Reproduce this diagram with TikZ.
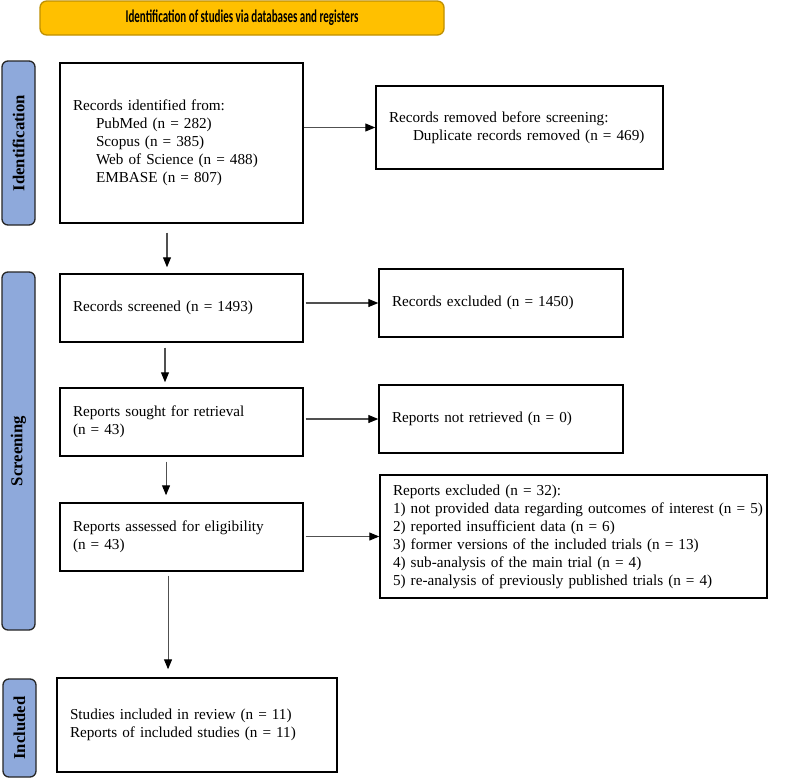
\documentclass[tikz,border=0pt]{standalone}
\usepackage{fontspec}
\setmainfont{Liberation Serif}
\newfontfamily\titlefont[FakeStretch=0.61]{Carlito}
\usetikzlibrary{arrows.meta,calc}
\definecolor{gold}{RGB}{255,192,0}
\definecolor{goldline}{RGB}{191,144,0}
\definecolor{sideblue}{RGB}{142,169,219}
\definecolor{arrowgray}{RGB}{80,80,80}
\begin{document}
\begin{tikzpicture}[x=0.75pt,y=-0.75pt,
  box/.style={draw=black,line width=1.1pt,fill=white,align=left,inner xsep=9.75pt,inner ysep=0pt,
    font=\fontsize{11.4}{13.5}\selectfont,anchor=center},
  side/.style={draw=black!85,line width=1pt,fill=sideblue,rounded corners=4.5pt,rotate=90,
    inner sep=0pt,minimum height=24.75pt,font=\fontsize{12.5}{14}\selectfont\bfseries},
  arr/.style={draw=arrowgray,line width=0.8pt,-{Triangle[length=7.5pt,width=6pt,color=black]}}]
\fill[white] (0,0) rectangle (787,779);
\useasboundingbox (0,0) rectangle (787,779);

\node[draw=goldline,fill=gold,line width=1pt,rounded corners=5pt,minimum width=303pt,minimum height=25.5pt,
  inner sep=0pt,font=\titlefont\bfseries\fontsize{13.5}{15}\selectfont] (title) at (242,18)
  {Identification of studies via databases and registers};

\node[side,minimum width=123pt] (sideI) at (18.5,143) {Identification};
\node[side,minimum width=268.5pt] (sideS) at (18.5,451) {Screening};
\node[side,minimum width=73.5pt] (sideInc) at (19.5,728) {Included};

\node[box,text width=162.75pt,minimum height=120pt] (b1) at (181.5,143)
  {Records identified from:\\
   \hspace*{17.25pt}PubMed (n = 282)\\
   \hspace*{17.25pt}Scopus (n = 385)\\
   \hspace*{17.25pt}Web of Science (n = 488)\\
   \hspace*{17.25pt}EMBASE (n = 807)};
\node[box,text width=195.75pt,minimum height=62.25pt] (b2) at (519.5,127.5)
  {Records removed before screening:\\
   \hspace*{18pt}Duplicate records removed (n = 469)};
\node[box,text width=162.75pt,minimum height=51pt] (b3) at (181.5,308)
  {Records screened (n = 1493)};
\node[box,text width=163.5pt,minimum height=51pt] (b4) at (501,303)
  {Records excluded (n = 1450)};
\node[box,text width=162.75pt,minimum height=51pt] (b5) at (181.5,422)
  {Reports sought for retrieval\\(n = 43)};
\node[box,text width=163.5pt,minimum height=51pt] (b6) at (501,419)
  {Reports not retrieved (n = 0)};
\node[box,text width=162.75pt,minimum height=51pt] (b7) at (181.5,537)
  {Reports assessed for eligibility\\(n = 43)};
\node[box,text width=270.75pt,minimum height=92.25pt] (b8) at (573.5,536.5)
  {Reports excluded (n = 32):\\
   \mbox{1) not provided data regarding outcomes of interest (n = 5)}\\
   2) reported insufficient data (n = 6)\\
   3) former versions of the included trials (n = 13)\\
   4) sub-analysis of the main trial (n = 4)\\
   5) re-analysis of previously published trials (n = 4)};
\node[box,text width=190.5pt,minimum height=70.5pt] (b9) at (197,725)
  {Studies included in review (n = 11)\\
   Reports of included studies (n = 11)};

\draw[arr] (b1.east |- b2.west) -- (b2.west);
\draw[arr,shorten <=1.5pt] (b3.east |- b4.west) -- (b4.west);
\draw[arr,shorten <=1.5pt] (b5.east |- b6.west) -- (b6.west);
\draw[arr,shorten <=1.5pt] (b7.east |- b8.west) -- (b8.west);

\draw[arr,shorten <=6.75pt,shorten >=4.5pt] ([xshift=-10.875pt]b1.south) -- ([xshift=-10.875pt]b1.south |- b3.north);
\draw[arr,shorten <=3.75pt,shorten >=3.75pt] ([xshift=-12.375pt]b3.south) -- ([xshift=-12.375pt]b3.south |- b5.north);
\draw[arr,shorten <=3.75pt,shorten >=5.25pt] ([xshift=-11.6pt]b5.south) -- ([xshift=-11.6pt]b5.south |- b7.north);
\draw[arr,shorten <=3pt,shorten >=6pt] ([xshift=-10.1pt]b7.south) -- ([xshift=-10.1pt]b7.south |- b9.north);
\end{tikzpicture}
\end{document}
